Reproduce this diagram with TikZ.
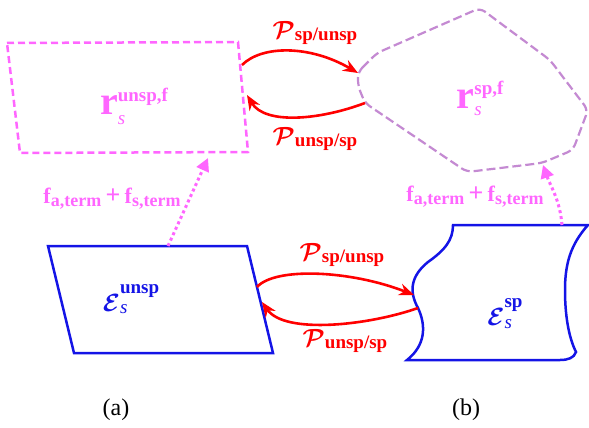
\documentclass[tikz,border=0pt]{standalone}
\usepackage{fontspec}
\setmainfont{Liberation Serif}
\usepackage{amsmath,bm}
\usetikzlibrary{arrows.meta}
\definecolor{pinkc}{HTML}{FF66FF}
\definecolor{blobc}{HTML}{C48AD2}
\definecolor{bluec}{HTML}{1414E6}
\definecolor{redc}{HTML}{FF0000}
\tikzset{
  rar/.style={-{Stealth[length=15pt,width=12pt]},line width=2.6pt,redc},
  far/.style={-{Triangle[length=13pt,width=13pt]},line width=3pt,pinkc,dash pattern=on 3pt off 3pt},
  lab/.style={inner sep=0pt,align=center}
}
% base, sup, sub, raise of sup, drop of sub
\newcommand{\tens}[5]{{#1}\rlap{\raisebox{-#5}{#3}}\raisebox{#4}{#2}}
\newcommand{\bsz}[2]{{\fontsize{#1}{#1}\selectfont\bfseries #2}}
\newcommand{\subs}{{\fontsize{19}{19}\selectfont\itshape s}}
\newcommand{\plab}[1]{{\fontsize{28}{28}\selectfont$\bm{\mathcal{P}}$}\raisebox{-2pt}{\bsz{19}{#1}}}
\newcommand{\flab}{\bsz{22}{f}\raisebox{-3pt}{\bsz{18}{a,term}}\bsz{26}{\,+\,}\bsz{22}{f}\raisebox{-3pt}{\bsz{18}{s,term}}}

\begin{document}
\begin{tikzpicture}[x=1pt,y=-1pt]
\useasboundingbox (0,0) rectangle (589,428);
% (a) top: dashed box
\draw[pinkc,line width=2.5pt,dash pattern=on 7pt off 4pt] (7,43)--(238,42)--(248,152)--(20,153)--cycle;
\node[lab,pinkc] (rU) at (134,106) {\tens{\bsz{40}{r}}{\bsz{19}{unsp,f}}{\subs}{13pt}{10pt}};
% (b) top: dashed blob
\draw[blobc,line width=2.2pt,dash pattern=on 9pt off 4pt,rounded corners=6pt]
  (358,72)--(377,53)--(480,8)--(550,60)--(588,110)--(573,150)--(542,163)--(467,172)--(365,103)--(358,86)--cycle;
\node[lab,pinkc] (rS) at (480,98) {\tens{\bsz{40}{r}}{\bsz{19}{sp,f}}{\subs}{14pt}{7pt}};
% (a) bottom: parallelogram
\draw[bluec,line width=2.5pt] (48,246)--(247,246)--(273,353)--(74,353)--cycle;
\node[lab,bluec] (EU) at (131,299) {\tens{\fontsize{29}{29}\selectfont$\bm{\mathcal{E}}$}{\bsz{19}{unsp}}{\subs}{18pt}{2pt}};
% (b) bottom: wavy box
\draw[bluec,line width=2.5pt] (453,225)--(588,225)
  .. controls (570,245) and (565,265) .. (565,290)
  .. controls (565,320) and (570,340) .. (576,352)
  .. controls (574,358) and (568,360) .. (560,360)
  --(407,360)
  .. controls (426,345) and (426,325) .. (418,308)
  .. controls (408,290) and (412,275) .. (428,262)
  .. controls (445,250) and (453,240) .. (453,225)--cycle;
\node[lab,bluec] (ES) at (505,314) {\tens{\fontsize{29}{29}\selectfont$\bm{\mathcal{E}}$}{\bsz{19}{sp}}{\subs}{18pt}{3pt}};
% ends of the connectors
\coordinate (rUe) at (242,65);  \coordinate (rUi) at (247,95);
\coordinate (rSw) at (358,73);  \coordinate (rSo) at (365,103);
\coordinate (EUe) at (257,287); \coordinate (EUi) at (262,302);
\coordinate (ESw) at (414,295); \coordinate (ESo) at (418,308);
\coordinate (EUn) at (168,246); \coordinate (rUs) at (208,158);
\coordinate (ESn) at (562,225); \coordinate (rSs) at (543,165);
% conversions
\draw[rar] (rUe) .. controls (262,45) and (310,45) .. (rSw);
\draw[rar] (rSo) .. controls (320,120) and (265,125) .. (rUi);
\draw[rar] (EUe) .. controls (275,267) and (350,270) .. (ESw);
\draw[rar] (ESo) .. controls (370,325) and (285,335) .. (EUi);
\node[lab,redc] (p1) at (315,33) {\plab{sp/unsp}};
\node[lab,redc] (p2) at (315,139) {\plab{unsp/sp}};
\node[lab,redc] (p3) at (342,255) {\plab{sp/unsp}};
\node[lab,redc] (p4) at (345,341) {\plab{unsp/sp}};
% forcing
\draw[far] (EUn) -- (rUs);
\draw[far] (ESn) .. controls (560,200) and (550,185) .. (rSs);
\node[lab,pinkc] (f1) at (112,199) {\flab};
\node[lab,pinkc] (f2) at (475,197) {\flab};
% captions
\node[lab,font=\fontsize{24}{24}\selectfont] (ca) at (116,410) {(a)};
\node[lab,font=\fontsize{24}{24}\selectfont] (cb) at (466,410) {(b)};
\end{tikzpicture}
\end{document}
